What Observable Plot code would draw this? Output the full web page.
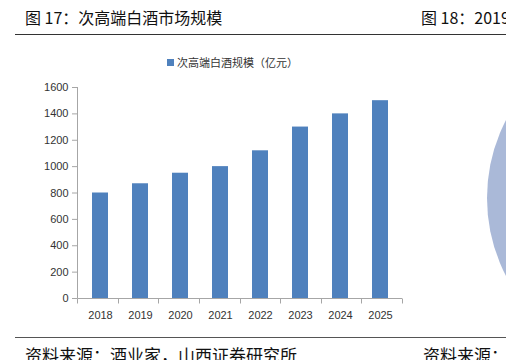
<!DOCTYPE html>
<html><head><meta charset="utf-8">
<script src="https://cdn.jsdelivr.net/npm/d3@7"></script>
<script src="https://cdn.jsdelivr.net/npm/@observablehq/plot@0.6"></script>
<style>
html,body{margin:0;padding:0;background:#fff;width:506px;height:360px;overflow:hidden;position:relative;font-family:"Noto Sans CJK SC",sans-serif;}
.abs{position:absolute;white-space:nowrap;line-height:1;}
.title{font-size:16px;color:#111;top:9px;}
.foot{font-size:17px;color:#111;top:346px;}
.hline{position:absolute;left:15px;right:0;}
#chart{position:absolute;left:0;top:40px;}
.pie{position:absolute;left:487px;top:28px;width:340px;height:340px;border-radius:50%;background:#AAB9D8;}
.legend{position:absolute;left:167px;top:54px;font-size:11px;color:#333;display:flex;align-items:center;}
.legend i{display:inline-block;width:7px;height:7px;background:#4F81BD;margin-right:3px;}
</style></head>
<body>
<div class="pie"></div>
<div class="abs title" style="left:25px">图 17：次高端白酒市场规模</div>
<div class="abs title" style="left:421px">图 18：2019</div>
<div class="hline" style="top:34px;border-top:1px solid #333"></div>
<div id="chart"></div>
<div class="legend"><i></i><span>次高端白酒规模（亿元）</span></div>
<div class="hline" style="top:337px;border-top:1.5px solid #555"></div>
<div class="abs foot" style="left:25px">资料来源：酒业家，山西证券研究所</div>
<div class="abs foot" style="left:423px">资料来源：</div>
<script>
const years = ["2018","2019","2020","2021","2022","2023","2024","2025"];
const values = [800, 870, 950, 1000, 1120, 1300, 1400, 1500];
const yTicks = [0,200,400,600,800,1000,1200,1400,1600];

const data = years.map((y,i)=>({year:y, value:values[i]}));
const W = 420, H = 290, ML = 77, MR = 18, MT = 47, MB = 32;
const axisColor = "#A6A6A6";
const numFont = "'Liberation Sans Narrow','Liberation Sans',Arial,sans-serif";

const axisLines = (index, scales, values, dims) => {
  const g = d3.create("svg:g").attr("stroke", axisColor).attr("stroke-width", 1);
  const step = (dims.width - dims.marginLeft - dims.marginRight) / years.length;
  const y0 = scales.y(0) + 0.5;
  const x0 = dims.marginLeft + 0.5;
  g.append("line").attr("x1", x0).attr("x2", x0).attr("y1", scales.y(1600)).attr("y2", y0);
  g.append("line").attr("x1", x0).attr("x2", dims.width - dims.marginRight).attr("y1", y0).attr("y2", y0);
  for (let i = 0; i <= years.length; i++) {
    const x = Math.round(dims.marginLeft + step * i) + 0.5;
    g.append("line").attr("x1", x).attr("x2", x).attr("y1", y0).attr("y2", y0 + 5);
  }
  return g.node();
};

const plot = Plot.plot({
  width: W, height: H,
  marginLeft: ML, marginRight: MR, marginTop: MT, marginBottom: MB,
  style: {fontFamily: numFont, fontSize: "11px", color: "#333", background: "transparent"},
  x: {domain: years, paddingInner: 0.6, paddingOuter: 0.3, label: null},
  y: {domain: [0, 1600], label: null},
  marks: [
    Plot.barY(data, {x: "year", y: "value", fill: "#4F81BD"}),
    Plot.axisY({ticks: yTicks, tickFormat: d => String(d), tickSize: 5, tickPadding: 4, stroke: axisColor, fill: "#333", label: null}),
    axisLines,
    Plot.axisX({tickSize: 0, tickPadding: 13, fill: "#333", label: null})
  ]
});
document.getElementById("chart").appendChild(plot);
</script>
</body></html>
